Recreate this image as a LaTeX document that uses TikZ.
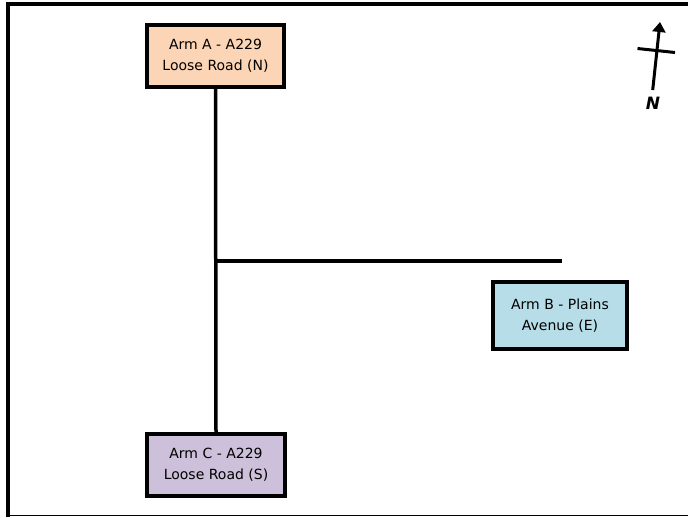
\documentclass[tikz,border=0pt]{standalone}
\usepackage{fontspec}
\setmainfont{DejaVu Sans}
\usetikzlibrary{arrows.meta}
\definecolor{peach}{HTML}{FBD5B5}
\definecolor{lblue}{HTML}{B7DEE8}
\definecolor{lav}{HTML}{CCC0DA}
\begin{document}
\begin{tikzpicture}[x=1pt,y=-1pt,
  armbox/.style={draw=black,line width=4pt,align=center,inner sep=0pt,
    font=\fontsize{14}{21}\selectfont,text=black},
  road/.style={line width=3.5pt,draw=black}]
\useasboundingbox (0,0) rectangle (688,517);
% frame
\draw[line width=4pt] (8,517) -- (8,4) -- (688,4);
\draw[line width=1.5pt] (6,515.5) -- (688,515.5);
% boxes
\node[armbox,fill=peach,minimum width=137pt,minimum height=62pt] (A) at (215.5,56) {Arm A - A229\\Loose Road (N)};
\node[armbox,fill=lblue,minimum width=134pt,minimum height=67pt] (B) at (560,315.5) {Arm B - Plains\\Avenue (E)};
\node[armbox,fill=lav,minimum width=138pt,minimum height=62pt] (C) at (216,465) {Arm C - A229\\Loose Road (S)};
% roads
\draw[road] (A.south) -- (C.north);
\coordinate (J) at (216,261);
\coordinate (E) at (562,261);
\draw[road] (J) -- (E);
% north arrow
\coordinate (ntail) at (652.7,90);
\coordinate (nhead) at (660,22);
\draw[line width=3pt,-{Triangle[length=10pt,width=13pt]}] (ntail) -- (nhead);
\coordinate (c1) at (637.5,48.5);
\coordinate (c2) at (675,52.5);
\draw[line width=3pt] (c1) -- (c2);
\node[font=\fontsize{17}{17}\selectfont\bfseries\itshape] (N) at (653,103) {N};
\end{tikzpicture}
\end{document}
